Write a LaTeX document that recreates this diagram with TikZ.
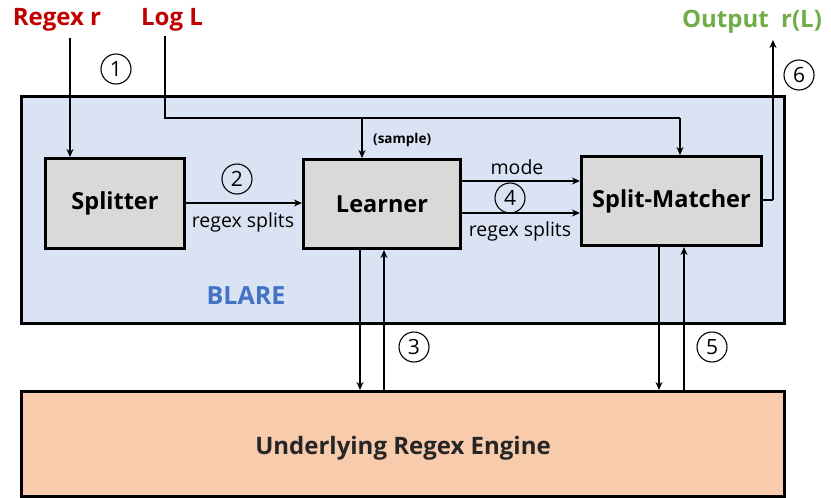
\documentclass[tikz,border=0pt]{standalone}
\usepackage{fontspec}
\setmainfont{Open Sans}
\usetikzlibrary{arrows.meta}
\definecolor{blarefill}{HTML}{DAE3F3}
\definecolor{boxfill}{HTML}{D9D9D9}
\definecolor{enginefill}{HTML}{F8CBAD}
\definecolor{inred}{HTML}{C00000}
\definecolor{outgreen}{HTML}{70AD47}
\definecolor{blareblue}{HTML}{4472C4}
\tikzset{
  bigbox/.style={draw=black, line width=3pt, anchor=north west, inner sep=0pt},
  procbox/.style={draw=black, line width=3pt, fill=boxfill, anchor=north west, inner sep=0pt, font=\fontsize{23.5}{26}\selectfont\bfseries},
  arr/.style={line width=1.8pt, -{Stealth[length=8pt,width=7pt]}},
  ln/.style={line width=1.8pt},
  num/.style={draw=black, circle, line width=1.1pt, minimum size=30pt, inner sep=0pt, font=\fontsize{21}{22}\selectfont},
  lbl/.style={font=\fontsize{19.5}{22}\selectfont, inner sep=0pt},
  title/.style={font=\fontsize{24}{26}\selectfont\bfseries},
}
\begin{document}
\begin{tikzpicture}[x=1pt,y=-1pt]
\useasboundingbox (0,0) rectangle (831,498);
% containers
\node[bigbox, fill=blarefill, minimum width=763pt, minimum height=227pt] (blare) at (20,95) {};
\node[bigbox, fill=enginefill, minimum width=763pt, minimum height=105pt] (engine) at (20,390) {};
\node[title, text=black!85] (enginetxt) at (403,448) {Underlying Regex Engine};
\node[font=\fontsize{25}{26}\selectfont\bfseries, text=blareblue] (blaretxt) at (246,296) {BLARE};
% process boxes
\node[procbox, minimum width=139pt, minimum height=90pt] (split) at (44,157) {Splitter};
\node[procbox, minimum width=157pt, minimum height=89pt] (learn) at (302,158) {Learner};
\node[procbox, minimum width=180pt, minimum height=89pt] (sm) at (580,155) {Split-Matcher};
% inputs / output
\node[title, text=inred] (regexr) at (57,20) {Regex r};
\node[title, text=inred] (logl) at (172,20) {Log L};
\node[title, text=outgreen] (out) at (752,22) {Output\ \ r(L)};
\coordinate (rstart) at (70,38);
\coordinate (lstart) at (165,36);
\coordinate (lturn) at (165,118);
\coordinate (lsm) at (680,118);
\coordinate (lbranch) at (362,118);
\coordinate (oturn) at (773,200);
\coordinate (oend) at (773,40);
% connectors
\draw[arr] (rstart) -- (rstart |- split.north);
\draw[ln] (lstart) -- (lturn) -- (lsm);
\draw[arr] (lsm) -- (lsm |- sm.north);
\draw[arr] (lbranch) -- (lbranch |- learn.north);
\draw[arr] (split.east |- 0,203) -- (learn.west |- 0,203);
\draw[arr] (learn.east |- 0,181) -- (sm.west |- 0,181);
\draw[arr] (learn.east |- 0,213) -- (sm.west |- 0,213);
\draw[ln] (sm.east |- oturn) -- (oturn);
\draw[arr] (oturn) -- (oend);
\draw[arr] (360,0 |- learn.south) -- (360,0 |- engine.north);
\draw[arr] (384,0 |- engine.north) -- (384,0 |- learn.south);
\draw[arr] (659,0 |- sm.south) -- (659,0 |- engine.north);
\draw[arr] (684,0 |- engine.north) -- (684,0 |- sm.south);
% labels
\node[font=\fontsize{13.5}{14}\selectfont\bfseries, anchor=west, inner sep=0pt] (samp) at (373,140) {(sample)};
\node[lbl] (rs1) at (243,222) {regex splits};
\node[lbl] (mode) at (517,167) {mode};
\node[lbl] (rs2) at (520,231) {regex splits};
% step numbers
\node[num] (n1) at (116,69) {1};
\node[num] (n2) at (237,179) {2};
\node[num] (n3) at (414,347) {3};
\node[num] (n4) at (510,198) {4};
\node[num] (n5) at (712,347) {5};
\node[num] (n6) at (799,75) {6};
\end{tikzpicture}
\end{document}
